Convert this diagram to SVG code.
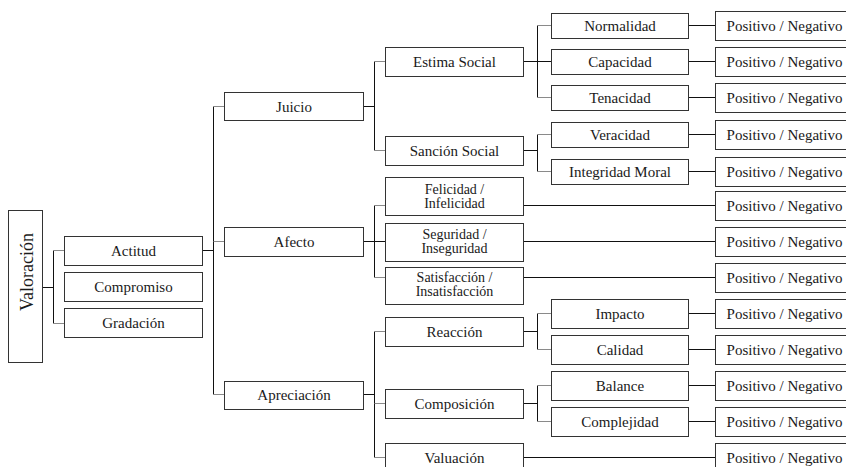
<svg xmlns="http://www.w3.org/2000/svg" width="846" height="467" viewBox="0 0 846 467">
<style>
.b{fill:#fff;stroke:#333;stroke-width:1}
.t{font-size:15px;fill:#1a1a1a;text-anchor:middle}
.s{font-size:14px}
.c line{stroke:#111;stroke-width:1}
.c .g{stroke:#8a8a8a}
</style>
<rect width="846" height="467" fill="#fff"/>
<g class="c" id="connectors">
<line x1="42.5" y1="287.5" x2="53.5" y2="287.5"/>
<line x1="53.5" y1="250.5" x2="53.5" y2="323.5"/>
<line class="g" x1="53.5" y1="250.5" x2="64.5" y2="250.5"/>
<line class="g" x1="53.5" y1="323.5" x2="64.5" y2="323.5"/>
<line x1="202.5" y1="250.5" x2="213.5" y2="250.5"/>
<line x1="213.5" y1="106.5" x2="213.5" y2="394.5"/>
<line class="g" x1="213.5" y1="106.5" x2="224.5" y2="106.5"/>
<line class="g" x1="213.5" y1="241.5" x2="224.5" y2="241.5"/>
<line class="g" x1="213.5" y1="394.5" x2="224.5" y2="394.5"/>
<line x1="363.5" y1="106.5" x2="374.5" y2="106.5"/>
<line x1="374.5" y1="61.5" x2="374.5" y2="150.5"/>
<line class="g" x1="374.5" y1="61.5" x2="385.5" y2="61.5"/>
<line class="g" x1="374.5" y1="150.5" x2="385.5" y2="150.5"/>
<line x1="363.5" y1="241.5" x2="385.5" y2="241.5"/>
<line x1="374.5" y1="205.5" x2="374.5" y2="277.5"/>
<line class="g" x1="374.5" y1="205.5" x2="385.5" y2="205.5"/>
<line class="g" x1="374.5" y1="277.5" x2="385.5" y2="277.5"/>
<line x1="363.5" y1="394.5" x2="374.5" y2="394.5"/>
<line x1="374.5" y1="331.5" x2="374.5" y2="457.5"/>
<line class="g" x1="374.5" y1="331.5" x2="385.5" y2="331.5"/>
<line class="g" x1="374.5" y1="403.5" x2="385.5" y2="403.5"/>
<line class="g" x1="374.5" y1="457.5" x2="385.5" y2="457.5"/>
<line x1="523.5" y1="61.5" x2="551.5" y2="61.5"/>
<line x1="537.5" y1="25.5" x2="537.5" y2="97.5"/>
<line class="g" x1="537.5" y1="25.5" x2="551.5" y2="25.5"/>
<line class="g" x1="537.5" y1="97.5" x2="551.5" y2="97.5"/>
<line x1="523.5" y1="150.5" x2="537.5" y2="150.5"/>
<line x1="537.5" y1="134.5" x2="537.5" y2="171.5"/>
<line class="g" x1="537.5" y1="134.5" x2="551.5" y2="134.5"/>
<line class="g" x1="537.5" y1="171.5" x2="551.5" y2="171.5"/>
<line x1="523.5" y1="331.5" x2="537.5" y2="331.5"/>
<line x1="537.5" y1="313.5" x2="537.5" y2="349.5"/>
<line class="g" x1="537.5" y1="313.5" x2="551.5" y2="313.5"/>
<line class="g" x1="537.5" y1="349.5" x2="551.5" y2="349.5"/>
<line x1="523.5" y1="403.5" x2="537.5" y2="403.5"/>
<line x1="537.5" y1="385.5" x2="537.5" y2="421.5"/>
<line class="g" x1="537.5" y1="385.5" x2="551.5" y2="385.5"/>
<line class="g" x1="537.5" y1="421.5" x2="551.5" y2="421.5"/>
<line x1="688.5" y1="25.5" x2="715.5" y2="25.5"/>
<line x1="688.5" y1="61.5" x2="715.5" y2="61.5"/>
<line x1="688.5" y1="97.5" x2="715.5" y2="97.5"/>
<line x1="688.5" y1="134.5" x2="715.5" y2="134.5"/>
<line x1="688.5" y1="171.5" x2="715.5" y2="171.5"/>
<line x1="523.5" y1="205.5" x2="715.5" y2="205.5"/>
<line x1="523.5" y1="241.5" x2="715.5" y2="241.5"/>
<line x1="523.5" y1="277.5" x2="715.5" y2="277.5"/>
<line x1="688.5" y1="313.5" x2="715.5" y2="313.5"/>
<line x1="688.5" y1="349.5" x2="715.5" y2="349.5"/>
<line x1="688.5" y1="385.5" x2="715.5" y2="385.5"/>
<line x1="688.5" y1="421.5" x2="715.5" y2="421.5"/>
<line x1="523.5" y1="457.5" x2="715.5" y2="457.5"/>
</g>

<g font-family="Liberation Serif, Times New Roman, serif">
<g id="valoracion"><rect class="b" x="8.5" y="210.5" width="34" height="152"/><text class="t" transform="translate(32.5,272) rotate(-90)" x="0" y="0" style="font-size:18px">Valoración</text></g>

<g id="actitud"><rect class="b" x="64.5" y="236.5" width="138" height="29"/><text class="t" x="133.5" y="256">Actitud</text></g>
<g id="compromiso"><rect class="b" x="64.5" y="272.5" width="138" height="29"/><text class="t" x="133.5" y="292">Compromiso</text></g>
<g id="gradacion"><rect class="b" x="64.5" y="308.5" width="138" height="29"/><text class="t" x="133.5" y="328">Gradación</text></g>

<g id="juicio"><rect class="b" x="224.5" y="92.5" width="139" height="28"/><text class="t" x="294" y="112">Juicio</text></g>
<g id="afecto"><rect class="b" x="224.5" y="227.5" width="139" height="29"/><text class="t" x="294" y="247">Afecto</text></g>
<g id="apreciacion"><rect class="b" x="224.5" y="381.5" width="139" height="28"/><text class="t" x="294" y="400">Apreciación</text></g>

<g id="estima-social"><rect class="b" x="385.5" y="47.5" width="138" height="29"/><text class="t" x="454.5" y="67">Estima Social</text></g>
<g id="sancion-social"><rect class="b" x="385.5" y="136.5" width="138" height="29"/><text class="t" x="454.5" y="156">Sanción Social</text></g>
<g id="felicidad"><rect class="b" x="385.5" y="177.5" width="138" height="38"/><text class="t s" x="454.5" y="194">Felicidad /</text><text class="t s" x="454.5" y="208">Infelicidad</text></g>
<g id="seguridad"><rect class="b" x="385.5" y="223.5" width="138" height="38"/><text class="t s" x="454.5" y="238.5">Seguridad /</text><text class="t s" x="454.5" y="252.5">Inseguridad</text></g>
<g id="satisfaccion"><rect class="b" x="385.5" y="267.5" width="138" height="37"/><text class="t s" x="454.5" y="282">Satisfacción /</text><text class="t s" x="454.5" y="296">Insatisfacción</text></g>
<g id="reaccion"><rect class="b" x="385.5" y="317.5" width="138" height="29"/><text class="t" x="454.5" y="337">Reacción</text></g>
<g id="composicion"><rect class="b" x="385.5" y="389.5" width="138" height="29"/><text class="t" x="454.5" y="409">Composición</text></g>
<g id="valuacion"><rect class="b" x="385.5" y="443.5" width="138" height="30"/><text class="t" x="454.5" y="463">Valuación</text></g>

<g id="normalidad"><rect class="b" x="551.5" y="13.5" width="137" height="25"/><text class="t" x="620" y="31">Normalidad</text></g>
<g id="capacidad"><rect class="b" x="551.5" y="49.5" width="137" height="25"/><text class="t" x="620" y="67">Capacidad</text></g>
<g id="tenacidad"><rect class="b" x="551.5" y="85.5" width="137" height="25"/><text class="t" x="620" y="103">Tenacidad</text></g>
<g id="veracidad"><rect class="b" x="551.5" y="122.5" width="137" height="25"/><text class="t" x="620" y="140">Veracidad</text></g>
<g id="integridad-moral"><rect class="b" x="551.5" y="159.5" width="137" height="25"/><text class="t" x="620" y="177">Integridad Moral</text></g>
<g id="impacto"><rect class="b" x="551.5" y="299.5" width="137" height="29"/><text class="t" x="620" y="319">Impacto</text></g>
<g id="calidad"><rect class="b" x="551.5" y="335.5" width="137" height="29"/><text class="t" x="620" y="355">Calidad</text></g>
<g id="balance"><rect class="b" x="551.5" y="371.5" width="137" height="29"/><text class="t" x="620" y="391">Balance</text></g>
<g id="complejidad"><rect class="b" x="551.5" y="407.5" width="137" height="29"/><text class="t" x="620" y="427">Complejidad</text></g>

<g id="pn1"><rect class="b" x="715.5" y="11.5" width="150" height="29"/><text class="t" x="784.5" y="31">Positivo / Negativo</text></g>
<g id="pn2"><rect class="b" x="715.5" y="47.5" width="150" height="29"/><text class="t" x="784.5" y="67">Positivo / Negativo</text></g>
<g id="pn3"><rect class="b" x="715.5" y="83.5" width="150" height="29"/><text class="t" x="784.5" y="103">Positivo / Negativo</text></g>
<g id="pn4"><rect class="b" x="715.5" y="120.5" width="150" height="29"/><text class="t" x="784.5" y="140">Positivo / Negativo</text></g>
<g id="pn5"><rect class="b" x="715.5" y="157.5" width="150" height="29"/><text class="t" x="784.5" y="177">Positivo / Negativo</text></g>
<g id="pn6"><rect class="b" x="715.5" y="191.5" width="150" height="29"/><text class="t" x="784.5" y="211">Positivo / Negativo</text></g>
<g id="pn7"><rect class="b" x="715.5" y="227.5" width="150" height="29"/><text class="t" x="784.5" y="247">Positivo / Negativo</text></g>
<g id="pn8"><rect class="b" x="715.5" y="263.5" width="150" height="29"/><text class="t" x="784.5" y="283">Positivo / Negativo</text></g>
<g id="pn9"><rect class="b" x="715.5" y="299.5" width="150" height="29"/><text class="t" x="784.5" y="319">Positivo / Negativo</text></g>
<g id="pn10"><rect class="b" x="715.5" y="335.5" width="150" height="29"/><text class="t" x="784.5" y="355">Positivo / Negativo</text></g>
<g id="pn11"><rect class="b" x="715.5" y="371.5" width="150" height="29"/><text class="t" x="784.5" y="391">Positivo / Negativo</text></g>
<g id="pn12"><rect class="b" x="715.5" y="407.5" width="150" height="29"/><text class="t" x="784.5" y="427">Positivo / Negativo</text></g>
<g id="pn13"><rect class="b" x="715.5" y="443.5" width="150" height="30"/><text class="t" x="784.5" y="463">Positivo / Negativo</text></g>
</g>
</svg>
